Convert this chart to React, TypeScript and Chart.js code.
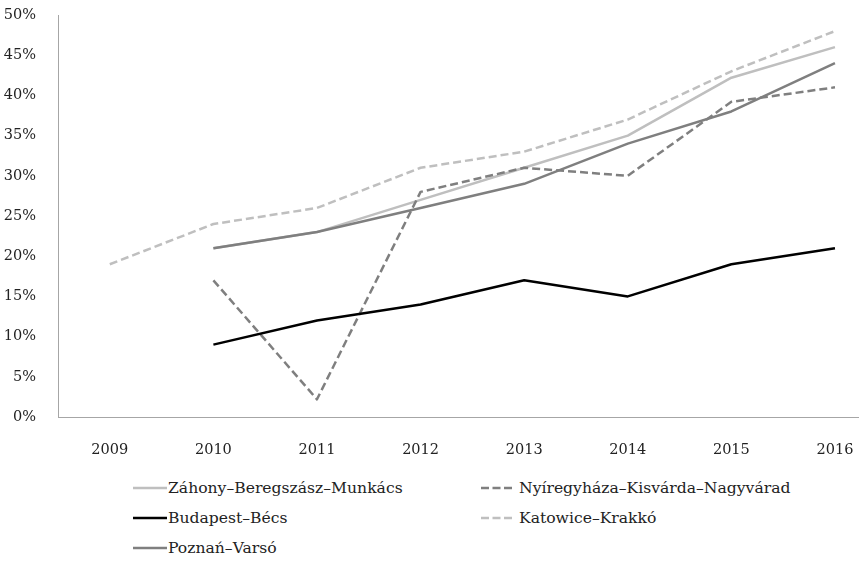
import React, { useEffect, useRef } from "react";
import { Chart, registerables } from "chart.js";

Chart.register(...registerables);

const years = [2009, 2010, 2011, 2012, 2013, 2014, 2015, 2016];
const yTicks = [0, 5, 10, 15, 20, 25, 30, 35, 40, 45, 50];

const zahony = [null, 21, 23, 27, 31, 35, 42.2, 46];
const nyiregyhaza = [null, 17, 2.2, 28, 31, 30, 39.2, 41];
const budapest = [null, 9, 12, 14, 17, 15, 19, 21];
const katowice = [19, 24, 26, 31, 33, 37, 43, 48];
const poznan = [null, 21, 23, 26, 29, 34, 38, 44];

const seriesNames = [
  "Záhony–Beregszász–Munkács",
  "Nyíregyháza–Kisvárda–Nagyvárad",
  "Budapest–Bécs",
  "Katowice–Krakkó",
  "Poznań–Varsó",
];
const seriesValues = [zahony, nyiregyhaza, budapest, katowice, poznan];
const seriesColors = ["#bfbfbf", "#7f7f7f", "#000000", "#bfbfbf", "#7f7f7f"];
const seriesDashed = [false, true, false, true, false];

const FONT = "'DejaVu Serif', serif";

export default function App() {
  const ref = useRef<HTMLCanvasElement | null>(null);

  useEffect(() => {
    if (!ref.current) return;
    const n = seriesNames.length;
    const chart = new Chart(ref.current, {
      type: "line",
      data: {
        datasets: seriesNames.map((name, i) => ({
          label: name,
          data: years
            .map((yr, j) => ({ x: yr, y: seriesValues[i][j] }))
            .filter((p) => p.y !== null),
          borderColor: seriesColors[i],
          backgroundColor: seriesColors[i],
          borderWidth: 2.5,
          borderDash: seriesDashed[i] ? [8, 4] : [],
          borderJoinStyle: "round",
          pointRadius: 0,
          tension: 0,
          fill: false,
          order: n - i,
        })),
      },
      options: {
        animation: false,
        responsive: false,
        layout: { padding: { top: 15, left: 0, right: 0, bottom: 0 } },
        plugins: { legend: { display: false }, tooltip: { enabled: false } },
        scales: {
          x: {
            type: "linear",
            min: 2008.5,
            max: 2016.232,
            afterBuildTicks: (axis: any) => {
              axis.ticks = years.map((v) => ({ value: v }));
            },
            afterFit: (axis: any) => {
              axis.height = 45;
              axis.paddingLeft = 0;
              axis.paddingRight = 0;
            },
            grid: { display: false, drawTicks: false },
            border: { display: true, color: "#a6a6a6", width: 1 },
            ticks: {
              padding: 25,
              maxRotation: 0,
              autoSkip: false,
              color: "#222",
              font: { family: FONT, size: 14.5 },
              callback: (v: any) => String(v),
            },
          },
          y: {
            min: 0,
            max: 50,
            afterBuildTicks: (axis: any) => {
              axis.ticks = yTicks.map((v) => ({ value: v }));
            },
            afterFit: (axis: any) => {
              axis.width = 58;
              axis.paddingTop = 0;
              axis.paddingBottom = 0;
            },
            grid: { display: false, drawTicks: false },
            border: { display: true, color: "#a6a6a6", width: 1 },
            ticks: {
              padding: 22,
              color: "#222",
              font: { family: FONT, size: 14.5 },
              callback: (v: any) => v + "%",
            },
          },
        },
      },
    });
    return () => chart.destroy();
  }, []);

  const legendPos = [
    { left: 133, top: 488 },
    { left: 481, top: 488 },
    { left: 133, top: 518 },
    { left: 481, top: 518 },
    { left: 133, top: 548 },
  ];

  return (
    <div
      style={{
        position: "fixed",
        left: 0,
        top: 0,
        width: 859,
        height: 561,
        background: "#fff",
        overflow: "hidden",
      }}
    >
      <canvas ref={ref} width={859} height={462} style={{ display: "block" }} />
      {seriesNames.map((name, i) => (
        <div
          key={name}
          style={{
            position: "absolute",
            left: legendPos[i].left,
            top: legendPos[i].top - 10,
            height: 20,
            display: "flex",
            alignItems: "center",
            fontFamily: FONT,
            fontSize: 15.6,
            color: "#222",
            whiteSpace: "nowrap",
          }}
        >
          <svg width={seriesDashed[i] ? 38 : 35} height={20} style={{ display: "block" }}>
            <line
              x1={0}
              y1={10}
              x2={seriesDashed[i] ? 31 : 34}
              y2={10}
              stroke={seriesColors[i]}
              strokeWidth={2.5}
              strokeDasharray={seriesDashed[i] ? "8 3.5" : undefined}
            />
          </svg>
          <span>{name}</span>
        </div>
      ))}
    </div>
  );
}
